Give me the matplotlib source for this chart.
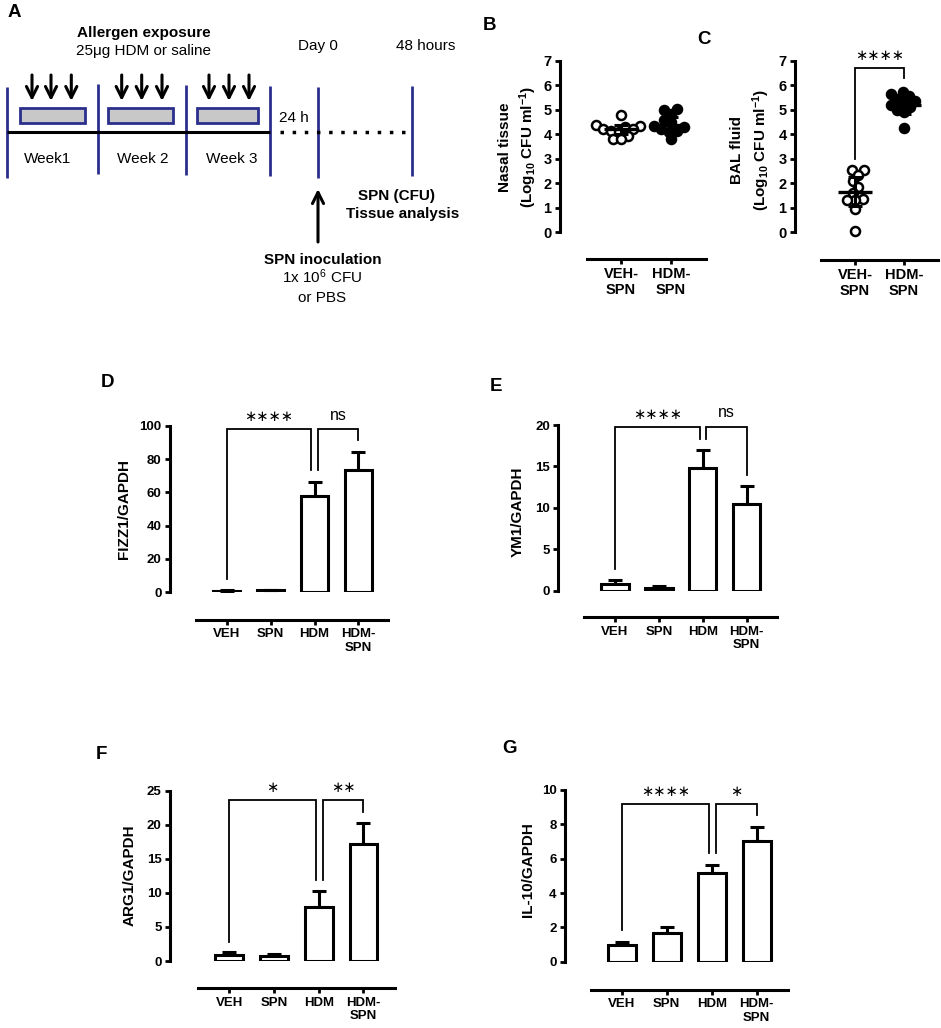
import numpy as np
import matplotlib
matplotlib.use("Agg")
import matplotlib.pyplot as plt
from matplotlib.patches import Rectangle

plt.rcParams['font.family'] = ['Liberation Sans', 'DejaVu Sans']
plt.rcParams['mathtext.fontset'] = 'custom'
plt.rcParams['mathtext.rm'] = 'Liberation Sans'
plt.rcParams['mathtext.bf'] = 'Liberation Sans:bold'
plt.rcParams['mathtext.it'] = 'Liberation Sans:italic'

# ---------------- data ----------------
groups_b = ['VEH-\nSPN', 'HDM-\nSPN']
nasal_veh = [4.78, 4.38, 4.35, 4.3, 4.22, 4.2, 4.15, 4.1, 3.95, 3.82, 3.8]
nasal_hdm = [5.05, 5.0, 4.85, 4.6, 4.5, 4.35, 4.3, 4.2, 4.15, 4.1, 3.8]
nasal_mean = [4.2, 4.4]
nasal_sd = [0.2, 0.3]

bal_veh = [2.55, 2.55, 2.35, 2.1, 1.85, 1.6, 1.35, 1.3, 1.3, 0.95, 0.05]
bal_hdm = [5.75, 5.65, 5.55, 5.45, 5.35, 5.3, 5.2, 5.1, 5.0, 4.9, 4.25]
bal_mean = [1.65, 5.2]
bal_sd = [0.6, 0.35]

groups = ['VEH', 'SPN', 'HDM', 'HDM-\nSPN']
fizz_mean = [1.0, 1.2, 58.0, 73.5]
fizz_err = [0.2, 0.3, 8.5, 10.5]
ym1_mean = [0.8, 0.35, 14.8, 10.5]
ym1_err = [0.5, 0.2, 2.2, 2.1]
arg1_mean = [0.85, 0.8, 8.0, 17.2]
arg1_err = [0.4, 0.3, 2.3, 3.1]
il10_mean = [0.95, 1.65, 5.15, 7.05]
il10_err = [0.2, 0.35, 0.5, 0.8]

# ---------------- figure ----------------
W, H = 941, 1028
fig = plt.figure(figsize=(W / 100, H / 100), dpi=100)
ov = fig.add_axes([0, 0, 1, 1])
ov.set_xlim(0, W)
ov.set_ylim(H, 0)
ov.axis('off')

NAVY = '#2b2f8c'
FS = 11

# ---- Panel A schematic ----
for x, yt, yb in [(7, 87, 178), (97.7, 84, 174), (185.7, 85, 175), (270, 86, 176),
                  (318, 87, 178), (412, 86, 176)]:
    ov.plot([x, x], [yt, yb], color=NAVY, lw=2, solid_capstyle='butt')
ov.plot([7, 270], [131.5, 131.5], color='black', lw=2.2, solid_capstyle='butt')
ov.plot([280, 406], [131.5, 131.5], color='black', lw=2.5, ls=(0, (1, 2.5)))
for x0, x1 in [(20, 85), (108, 173), (197, 258)]:
    ov.add_patch(Rectangle((x0, 108), x1 - x0, 15, facecolor='#c8c8c8', edgecolor=NAVY, lw=2))
for x in [32, 51, 71.3, 121.7, 141.7, 162, 209, 229, 249]:
    ov.annotate('', xy=(x, 101), xytext=(x, 75),
                arrowprops=dict(arrowstyle='->,head_length=0.8,head_width=0.4', lw=2.2,
                                color='black', shrinkA=0, shrinkB=0))
ov.annotate('', xy=(318, 189), xytext=(318, 242),
            arrowprops=dict(arrowstyle='->,head_length=0.8,head_width=0.4', lw=2.2,
                            color='black', shrinkA=0, shrinkB=0))

def t(x, y, s, **kw):
    kw.setdefault('fontsize', FS)
    ov.text(x, y, s, ha=kw.pop('ha', 'center'), va='baseline', **kw)

t(143.5, 36.7, 'Allergen exposure', fontweight='bold')
t(144, 55, '25μg HDM or saline')
t(317.5, 50, 'Day 0')
t(425.5, 50, '48 hours')
t(294, 121.7, '24 h')
t(47.5, 163, 'Week1')
t(142.5, 163, 'Week 2')
t(232, 163, 'Week 3')
t(397, 200, 'SPN (CFU)', fontweight='bold')
t(403, 218, 'Tissue analysis', fontweight='bold')
t(322.5, 264, 'SPN inoculation', fontweight='bold')
t(322, 283, r'1x 10$^{\mathrm{6}}$ CFU')
t(322, 302, 'or PBS')

# panel letters
for x, y, s in [(8, 17, 'A'), (483, 30, 'B'), (697, 44, 'C'), (100.7, 386.7, 'D'),
                (490, 391, 'E'), (96, 759, 'F'), (502, 753, 'G')]:
    t(x, y, s, ha='left', fontsize=13.5, fontweight='bold')

# y labels
def ylab(x, y, s, fs=11):
    ov.text(x, y, s, rotation=90, ha='center', va='center', fontsize=fs, fontweight='bold')

ylab(505, 147, 'Nasal tissue')
ylab(528.5, 147, r'(Log$_{\mathbf{10}}$ CFU ml$^{\mathbf{-1}}$)')
ylab(737.5, 150, 'BAL fluid')
ylab(761.5, 150, r'(Log$_{\mathbf{10}}$ CFU ml$^{\mathbf{-1}}$)')
ylab(124.5, 509, 'FIZZ1/GAPDH')
ylab(518, 512, 'YM1/GAPDH')
ylab(130, 875, 'ARG1/GAPDH')
ylab(528.5, 870, 'IL-10/GAPDH')


def setup_axes(spine_x, tick0, spacing, y0, ytop, ymax, xaxis_y, xb, ncat, labels, fs):
    right_px = xb[1] + 4
    ax = fig.add_axes([spine_x / W, 1 - y0 / H, (right_px - spine_x) / W, (y0 - ytop) / H])
    ax.set_xlim((spine_x - tick0) / spacing, (right_px - tick0) / spacing)
    ax.set_ylim(0, ymax)
    ax.patch.set_visible(False)
    for s in ['top', 'right']:
        ax.spines[s].set_visible(False)
    for s in ['left', 'bottom']:
        ax.spines[s].set_linewidth(2.2)
    ax.spines['bottom'].set_position(('outward', (xaxis_y - y0) * 0.72))
    ax.spines['bottom'].set_bounds((xb[0] - tick0) / spacing, (xb[1] - tick0) / spacing)
    ax.tick_params(width=2, length=3.6, direction='out', pad=2.5)
    ax.set_xticks(range(ncat))
    ax.set_xticklabels(labels, fontsize=fs, fontweight='bold', linespacing=1.15)
    return ax


def bracket(ax, x1, x2, y, yl, yr, text, star=True):
    ax.plot([x1, x1, x2, x2], [yl, y, y, yr], color='black', lw=1.3, clip_on=False,
            solid_joinstyle='miter')
    if star:
        ax.annotate(text, xy=((x1 + x2) / 2, y), xytext=(0, 9), textcoords='offset points',
                    ha='center', va='center', fontsize=10.5, family='DejaVu Sans',
                    annotation_clip=False)
    else:
        ax.annotate(text, xy=((x1 + x2) / 2, y), xytext=(0, 10), textcoords='offset points',
                    ha='center', va='center', fontsize=11.5, annotation_clip=False)


def swarm(vals, ypx, xpx, d):
    order = np.argsort(vals)
    placed = []
    offs = np.zeros(len(vals))
    cands = sorted(np.arange(-40, 41, 0.5), key=lambda c: (abs(c), c))
    for i in order:
        y = vals[i] * ypx
        for c in cands:
            if all(np.hypot(c - px, y - py) >= d for px, py in placed):
                break
        placed.append((c, y))
        offs[i] = c / xpx
    return offs


def scatter_panel(spine_x, tick0, spacing, xaxis_y, xb, veh, hdm, means, sds):
    y0, ytop = 232, 61
    ax = setup_axes(spine_x, tick0, spacing, y0, ytop, 7, xaxis_y, xb, 2, groups_b, 10.5)
    ax.set_yticks(range(8))
    for lab in ax.get_yticklabels():
        lab.set_fontweight('bold')
        lab.set_fontsize(10.5)
    ypx = (y0 - ytop) / 7
    for i, (vals, face) in enumerate([(veh, 'white'), (hdm, 'black')]):
        offs = swarm(np.array(vals), ypx, spacing, 7.6)
        ax.plot(i + offs, vals, 'o', ms=6.5, mfc=face, mec='black', mew=1.8, ls='none',
                clip_on=False, zorder=3)
    ax.errorbar(range(2), means, yerr=sds, fmt='none', ecolor='black', elinewidth=2.2,
                capsize=5, capthick=2.2, zorder=4)
    ax.hlines(means, np.arange(2) - 0.34, np.arange(2) + 0.34, color='black', lw=2.4, zorder=4)
    return ax


# ---- Panel B ----
axB = scatter_panel(560, 621, 50, 259, (587, 706), nasal_veh, nasal_hdm, nasal_mean, nasal_sd)
# ---- Panel C ----
axC = scatter_panel(795, 855, 49, 260, (821, 938), bal_veh, bal_hdm, bal_mean, bal_sd)
bracket(axC, 0, 1, 6.71, 3.0, 6.3, '∗∗∗∗')


def bar_panel(spine_x, tick0, spacing, y0, ytop, ymax, ystep, xaxis_y, xb, means, errs):
    ax = setup_axes(spine_x, tick0, spacing, y0, ytop, ymax, xaxis_y, xb, 4, groups, 9.5)
    ax.set_yticks(np.arange(0, ymax + ystep / 2, ystep))
    for lab in ax.get_yticklabels():
        lab.set_fontweight('bold')
        lab.set_fontsize(9.5)
    x = np.arange(4)
    ax.errorbar(x, means, yerr=[np.zeros(4), errs], fmt='none', ecolor='black',
                elinewidth=2.2, capsize=5, capthick=2.2, zorder=2)
    ax.bar(x, means, width=0.62, color='white', edgecolor='black', linewidth=2.2, zorder=3)
    return ax


axD = bar_panel(170, 226.7, 43.9, 592.3, 425.7, 100, 20, 620, (196, 388), fizz_mean, fizz_err)
bracket(axD, 0, 1.92, 98, 7.8, 73.4, '∗∗∗∗')
bracket(axD, 2.07, 3.0, 98, 73.4, 91.4, 'ns', star=False)

axE = bar_panel(558.3, 615, 43.9, 590.7, 425, 20, 5, 617.3, (584, 777), ym1_mean, ym1_err)
bracket(axE, 0, 1.94, 19.8, 2.6, 18.3, '∗∗∗∗')
bracket(axE, 2.08, 3.0, 19.8, 18.3, 14.0, 'ns', star=False)

axF = bar_panel(170, 229.3, 44.7, 961, 790.7, 25, 5, 988.3, (198.3, 395), arg1_mean, arg1_err)
bracket(axF, 0, 1.94, 23.7, 2.8, 11.9, '∗')
bracket(axF, 2.09, 3.0, 23.7, 11.9, 21.9, '∗∗')

axG = bar_panel(565, 621.7, 45, 961.7, 790, 10, 2, 990, (591, 788.3), il10_mean, il10_err)
bracket(axG, 0, 1.95, 9.2, 1.85, 6.35, '∗∗∗∗')
bracket(axG, 2.1, 3.0, 9.2, 6.35, 8.54, '∗')

fig.savefig('out.png', dpi=100)
